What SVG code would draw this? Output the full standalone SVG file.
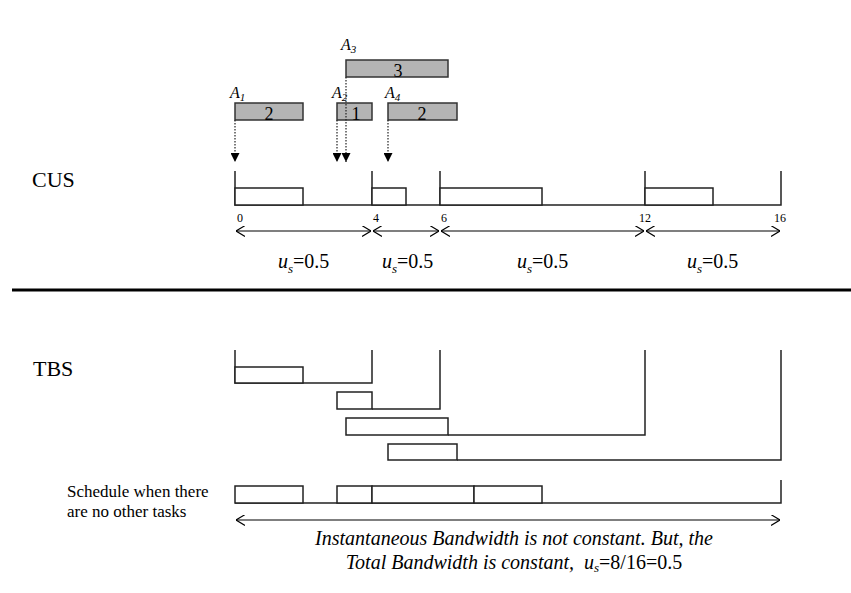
<svg xmlns="http://www.w3.org/2000/svg" width="851" height="593" viewBox="0 0 851 593" font-family="'Liberation Serif', 'DejaVu Serif', 'Times New Roman', serif">
<style>
.task{fill:#b4b4b4;stroke:#333;stroke-width:1.5}
.box{fill:#fff;stroke:#222;stroke-width:1.5}
.ln{fill:none;stroke:#222;stroke-width:1.5}
.dot{fill:none;stroke:#222;stroke-width:1.2;stroke-dasharray:1.5 1.5}
.dim{fill:none;stroke:#000;stroke-width:1.2}
.lbl{font-size:16px;font-style:italic}
.sub{font-size:11px}
.num{font-size:18px}
.tick{font-size:12px}
.us{font-size:20px}
</style>
<defs>
<marker id="tri" viewBox="0 0 10 10" refX="10" refY="5" markerWidth="9" markerHeight="9" markerUnits="userSpaceOnUse" orient="auto"><path d="M0,0 L10,5 L0,10 Z" fill="#000"/></marker>
<marker id="chev" viewBox="0 0 10 12" refX="10" refY="6" markerWidth="9" markerHeight="11" markerUnits="userSpaceOnUse" orient="auto-start-reverse"><path d="M0,0 L10,6 L0,12" fill="none" stroke="#000" stroke-width="1.3"/></marker>
</defs>
<rect width="851" height="593" fill="#fff"/>

<g id="tasks">
<g id="A1"><text x="230" y="98" class="lbl">A<tspan class="sub" dy="3">1</tspan></text><rect class="task" x="235" y="103" width="68" height="17"/><text x="269" y="120" class="num" text-anchor="middle">2</text></g>
<g id="A2"><text x="332" y="98" class="lbl">A<tspan class="sub" dy="3">2</tspan></text><rect class="task" x="337" y="103" width="35" height="17"/><text x="356" y="120" class="num" text-anchor="middle">1</text></g>
<g id="A3"><text x="341" y="50" class="lbl">A<tspan class="sub" dy="3">3</tspan></text><rect class="task" x="346" y="60" width="102" height="17"/><text x="398" y="77" class="num" text-anchor="middle">3</text></g>
<g id="A4"><text x="385" y="98" class="lbl">A<tspan class="sub" dy="3">4</tspan></text><rect class="task" x="388" y="103" width="69" height="17"/><text x="422" y="120" class="num" text-anchor="middle">2</text></g>
</g>

<g id="connectors">
<path class="dot" d="M235,120 V162" marker-end="url(#tri)"/>
<path class="dot" d="M337,120 V162" marker-end="url(#tri)"/>
<path class="dot" d="M346,77 V162" marker-end="url(#tri)"/>
<path class="dot" d="M388,120 V162" marker-end="url(#tri)"/>
<path class="dim" d="M236,231 H371" marker-start="url(#chev)" marker-end="url(#chev)"/>
<path class="dim" d="M373,231 H439" marker-start="url(#chev)" marker-end="url(#chev)"/>
<path class="dim" d="M441,231 H644" marker-start="url(#chev)" marker-end="url(#chev)"/>
<path class="dim" d="M646,231 H780" marker-start="url(#chev)" marker-end="url(#chev)"/>
<path class="dim" d="M236,520 H780" marker-start="url(#chev)" marker-end="url(#chev)"/>
</g>

<g id="cus">
<text x="32" y="187" font-size="22">CUS</text>
<path class="ln" d="M235,171 V205 H781 V171 M372,171 V205 M440,171 V205 M645,171 V205"/>
<rect class="box" x="235" y="188" width="68" height="17"/>
<rect class="box" x="372" y="188" width="34" height="17"/>
<rect class="box" x="440" y="188" width="102" height="17"/>
<rect class="box" x="645" y="188" width="68" height="17"/>
<text x="237" y="222" class="tick">0</text>
<text x="373" y="222" class="tick">4</text>
<text x="441" y="222" class="tick">6</text>
<text x="639" y="222" class="tick">12</text>
<text x="774" y="222" class="tick">16</text>
<text x="278" y="268" class="us"><tspan font-style="italic">u</tspan><tspan font-size="13" font-style="italic" dy="5">s</tspan><tspan dy="-5">=0.5</tspan></text>
<text x="382" y="268" class="us"><tspan font-style="italic">u</tspan><tspan font-size="13" font-style="italic" dy="5">s</tspan><tspan dy="-5">=0.5</tspan></text>
<text x="517" y="268" class="us"><tspan font-style="italic">u</tspan><tspan font-size="13" font-style="italic" dy="5">s</tspan><tspan dy="-5">=0.5</tspan></text>
<text x="687" y="268" class="us"><tspan font-style="italic">u</tspan><tspan font-size="13" font-style="italic" dy="5">s</tspan><tspan dy="-5">=0.5</tspan></text>
</g>

<line x1="12" y1="290" x2="851" y2="290" stroke="#000" stroke-width="3"/>

<g id="tbs">
<text x="33" y="376" font-size="22">TBS</text>
<path class="ln" d="M235,350 V383 H372 V350"/>
<rect class="box" x="235" y="367" width="68" height="16"/>
<path class="ln" d="M372,409 H440 V350"/>
<rect class="box" x="337" y="392" width="35" height="17"/>
<path class="ln" d="M448,435 H645 V350"/>
<rect class="box" x="346" y="418" width="102" height="17"/>
<path class="ln" d="M457,460 H781 V350"/>
<rect class="box" x="388" y="444" width="69" height="16"/>
</g>

<g id="schedule">
<text x="67" y="497" font-size="17">Schedule when there</text>
<text x="67" y="517" font-size="17">are no other tasks</text>
<path class="ln" d="M235,503 H781 V480"/>
<rect class="box" x="235" y="486" width="68" height="17"/>
<rect class="box" x="337" y="486" width="35" height="17"/>
<rect class="box" x="372" y="486" width="102" height="17"/>
<rect class="box" x="474" y="486" width="68" height="17"/>
<text x="514" y="545" font-size="20" font-style="italic" text-anchor="middle">Instantaneous Bandwidth is not constant. But, the</text>
<text x="514" y="569" font-size="20" text-anchor="middle" xml:space="preserve"><tspan font-style="italic">Total Bandwidth is constant,  u</tspan><tspan font-size="13" font-style="italic" dy="3">s</tspan><tspan dy="-3">=8/16=0.5</tspan></text>
</g>
</svg>
